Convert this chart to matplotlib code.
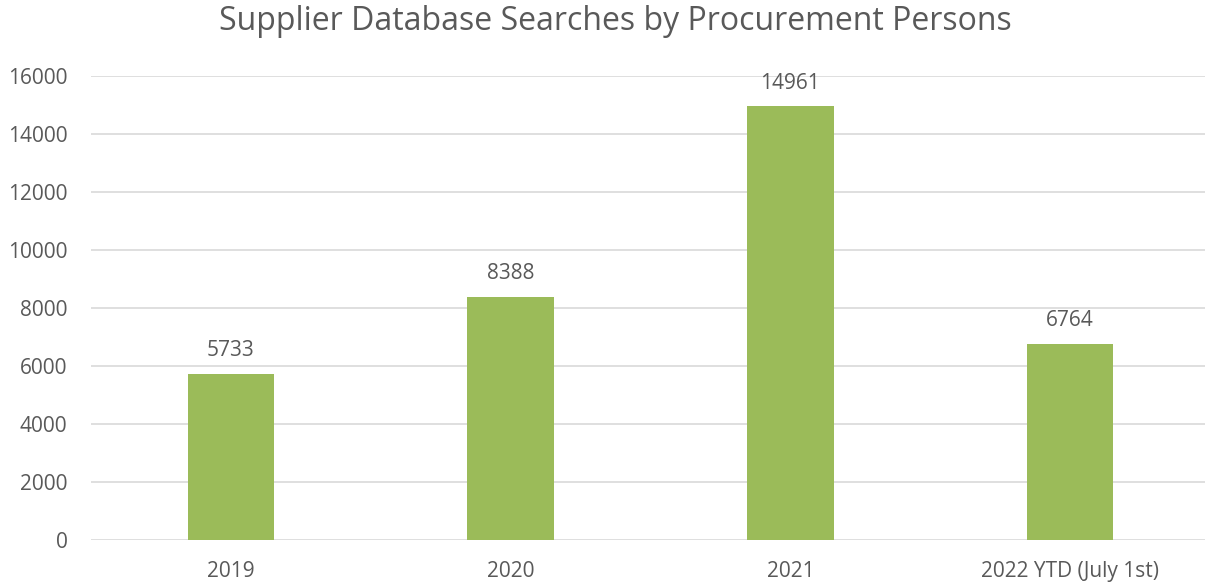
import matplotlib
matplotlib.use("Agg")
import matplotlib.pyplot as plt

plt.rcParams['font.family'] = ['Open Sans', 'DejaVu Sans']

# data
categories = ['2019', '2020', '2021', '2022 YTD (July 1st)']
searches = [5733, 8388, 14961, 6764]
y_ticks = [0, 2000, 4000, 6000, 8000, 10000, 12000, 14000, 16000]

text_col = '#595959'
bar_col = '#9BBB59'
grid_col = '#D9D9D9'

fig = plt.figure(figsize=(12.05, 5.84), dpi=100)
ax = fig.add_axes([91 / 1205, 1 - 540 / 584, 1119 / 1205, (540 - 76) / 584])

x = range(len(categories))
bars = ax.bar(x, searches, width=0.31, color=bar_col, zorder=3)

for b, v in zip(bars, searches):
    ax.annotate(str(v), (b.get_x() + b.get_width() / 2, v),
                xytext=(0, 9), textcoords='offset points',
                ha='center', va='bottom', fontsize=15, color=text_col)

ax.set_xlim(-0.5, len(categories) - 0.5)
ax.set_ylim(0, 16000)
ax.set_yticks(y_ticks)
ax.set_yticklabels([str(t) for t in y_ticks])
ax.set_xticks(list(x))
ax.set_xticklabels(categories)
ax.tick_params(axis='both', length=0, labelsize=15, colors=text_col)
ax.tick_params(axis='y', pad=17)
ax.tick_params(axis='x', pad=15)

ax.grid(axis='y', color=grid_col, linewidth=1.2, zorder=0)
for s in ax.spines.values():
    s.set_visible(False)

fig.text(615 / 1205, 1 - 22 / 584, 'Supplier Database Searches by Procurement Persons',
         ha='center', va='center', fontsize=23, color=text_col)

fig.savefig('out.png', dpi=100)
